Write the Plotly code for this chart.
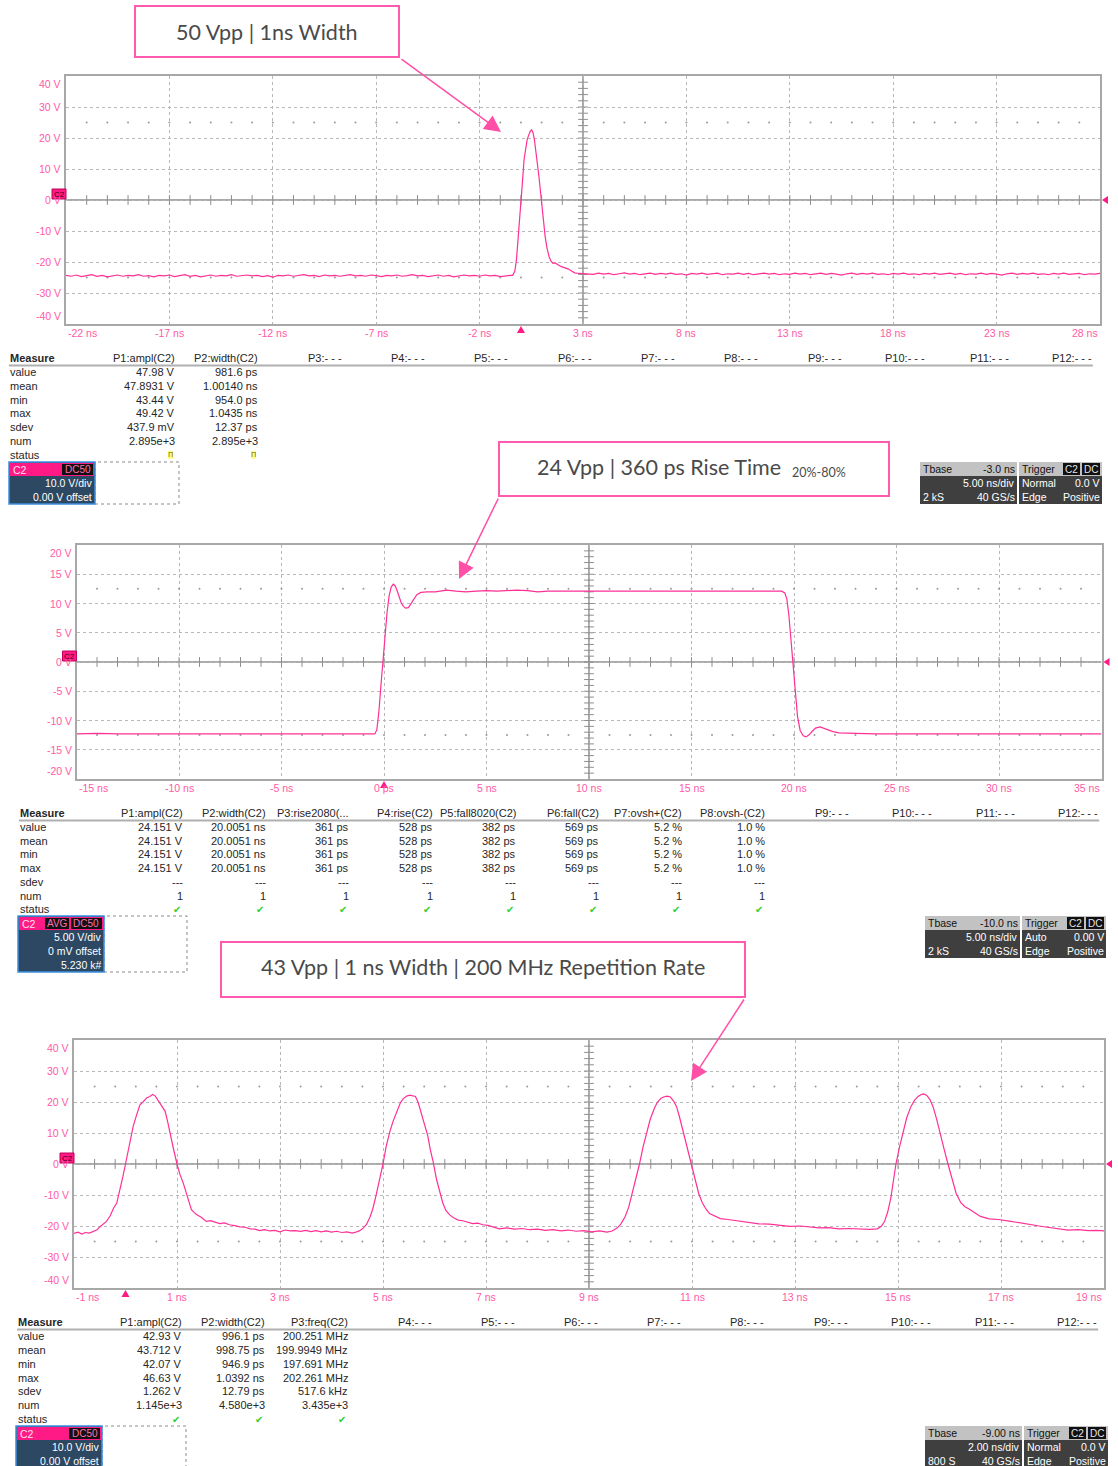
import plotly.graph_objects as go

W, H = 1118, 1466

# ---------------- waveform data : (time ns, volts) ----------------
wave1 = [
    (-22.0, -24.3), (-21.75, -24.6), (-21.5, -24.2), (-21.25, -24.7), (-21.0, -24.4), (-20.75, -24.1),
    (-20.5, -24.6), (-20.25, -24.3), (-20.0, -24.8), (-19.75, -24.4), (-19.5, -24.2), (-19.25, -24.6),
    (-19.0, -24.3), (-18.75, -24.5), (-18.5, -24.1), (-18.25, -24.6), (-18.0, -24.4), (-17.75, -24.8),
    (-17.5, -24.3), (-17.25, -24.5), (-17.0, -24.2), (-16.75, -24.7), (-16.5, -24.4), (-16.25, -24.1),
    (-16.0, -24.6), (-15.75, -24.3), (-15.5, -24.8), (-15.25, -24.4), (-15.0, -24.2), (-14.75, -24.6),
    (-14.5, -24.3), (-14.25, -24.5), (-14.0, -24.1), (-13.75, -24.6), (-13.5, -24.4), (-13.25, -24.2),
    (-13.0, -24.5), (-12.75, -24.3), (-12.5, -24.7), (-12.25, -24.4), (-12.0, -24.9), (-11.75, -24.3),
    (-11.5, -24.5), (-11.25, -24.2), (-11.0, -24.6), (-10.75, -24.4), (-10.5, -24.1), (-10.25, -24.5),
    (-10.0, -24.3), (-9.75, -24.7), (-9.5, -24.2), (-9.25, -24.5), (-9.0, -24.3), (-8.75, -24.6),
    (-8.5, -24.4), (-8.25, -24.1), (-8.0, -24.5), (-7.75, -24.3), (-7.5, -24.6), (-7.25, -24.2),
    (-7.0, -24.4), (-6.75, -24.7), (-6.5, -24.3), (-6.25, -24.5), (-6.0, -24.2), (-5.75, -24.6),
    (-5.5, -24.4), (-5.25, -24.1), (-5.0, -24.5), (-4.75, -24.3), (-4.5, -24.7), (-4.25, -24.4),
    (-4.0, -24.2), (-3.75, -24.6), (-3.5, -24.3), (-3.25, -24.8), (-3.0, -24.4), (-2.75, -24.2),
    (-2.5, -24.5), (-2.25, -24.3), (-2.0, -24.6), (-1.75, -24.2), (-1.5, -24.5), (-1.25, -24.3),
    (-1.0, -24.7), (-0.75, -24.4), (-0.5, -24.3),
    (-0.4, -24.3), (-0.3, -23.0), (-0.22, -19.5), (-0.15, -14.0),
    (-0.09, -8.5), (0.0, -1.0), (0.08, 6.5), (0.15, 13.0), (0.22, 17.0), (0.3, 19.5), (0.38, 21.0),
    (0.45, 22.2), (0.52, 22.6), (0.58, 21.8), (0.65, 19.5), (0.72, 16.0), (0.8, 12.0), (0.87, 7.5),
    (0.94, 3.0), (1.0, -1.0), (1.08, -6.5), (1.17, -11.8), (1.26, -15.5), (1.36, -18.3), (1.46, -19.8),
    (1.55, -20.4), (1.65, -20.3), (1.8, -20.9), (1.95, -21.5), (2.1, -21.8), (2.27, -22.2),
    (2.45, -22.9), (2.6, -23.5), (2.8, -23.7), (3.0, -23.8),
    (3.25, -23.7), (3.5, -24.0), (3.75, -23.6), (4.0, -23.9), (4.25, -23.7), (4.5, -24.1), (4.75, -23.8),
    (5.0, -23.5), (5.25, -23.9), (5.5, -23.7), (5.75, -24.1), (6.0, -23.8), (6.25, -23.6), (6.5, -24.0),
    (6.75, -23.7), (7.0, -23.9), (7.25, -23.6), (7.5, -24.0), (7.75, -23.8), (8.0, -24.2), (8.25, -23.7),
    (8.5, -23.9), (8.75, -23.6), (9.0, -24.0), (9.25, -23.8), (9.5, -23.6), (9.75, -24.1), (10.0, -23.8),
    (10.25, -23.9), (10.5, -23.6), (10.75, -24.0), (11.0, -23.7), (11.25, -24.1), (11.5, -23.8),
    (11.75, -23.6), (12.0, -23.9), (12.25, -23.7), (12.5, -24.1), (12.75, -23.8), (13.0, -24.0),
    (13.25, -23.6), (13.5, -23.9), (13.75, -23.7), (14.0, -24.1), (14.25, -23.8), (14.5, -23.6),
    (14.75, -24.0), (15.0, -23.7), (15.25, -23.9), (15.5, -24.2), (15.75, -23.8), (16.0, -23.6),
    (16.25, -24.0), (16.5, -23.7), (16.75, -23.9), (17.0, -23.6), (17.25, -24.0), (17.5, -23.8),
    (17.75, -24.1), (18.0, -23.7), (18.25, -23.9), (18.5, -23.6), (18.75, -24.0), (19.0, -23.8),
    (19.25, -24.1), (19.5, -23.7), (19.75, -23.9), (20.0, -23.6), (20.25, -24.0), (20.5, -23.8),
    (20.75, -23.6), (21.0, -24.0), (21.25, -23.7), (21.5, -24.1), (21.75, -23.8), (22.0, -23.9),
    (22.25, -23.6), (22.5, -24.0), (22.75, -23.7), (23.0, -23.9), (23.25, -24.2), (23.5, -23.8),
    (23.75, -23.6), (24.0, -24.0), (24.25, -23.7), (24.5, -23.9), (24.75, -23.6), (25.0, -24.0),
    (25.25, -23.8), (25.5, -24.1), (25.75, -23.7), (26.0, -23.9), (26.25, -23.6), (26.5, -24.0),
    (26.75, -23.8), (27.0, -23.7), (27.25, -24.1), (27.5, -23.8), (27.75, -23.9), (28.0, -23.7),
]

wave2 = [
    (-15.0, -12.3), (-14.0, -12.2), (-13.0, -12.3), (-12.0, -12.3), (-11.0, -12.2), (-10.0, -12.3),
    (-9.0, -12.2), (-8.0, -12.3), (-7.0, -12.3), (-6.0, -12.2), (-5.0, -12.3), (-4.0, -12.3),
    (-3.0, -12.2), (-2.0, -12.3), (-1.0, -12.3), (-0.45, -12.3), (-0.35, -11.6), (-0.25, -8.5),
    (-0.15, -4.0), (-0.05, 0.5), (0.05, 4.5), (0.15, 8.5), (0.25, 11.3), (0.35, 12.8), (0.45, 13.3),
    (0.55, 13.0), (0.65, 12.1), (0.75, 10.9), (0.85, 10.0), (0.95, 9.5), (1.05, 9.2), (1.19, 9.3),
    (1.3, 9.9), (1.45, 10.8), (1.6, 11.5), (1.8, 11.9), (2.1, 12.0), (2.5, 12.0), (3.06, 12.3),
    (3.5, 12.1), (4.0, 12.0), (4.5, 12.1), (5.0, 12.2), (5.5, 12.1), (6.0, 12.2), (6.5, 12.3),
    (7.0, 12.2), (7.5, 12.0), (8.0, 12.1), (9.0, 12.1), (10.0, 12.1), (11.0, 12.0), (12.0, 12.1),
    (13.0, 12.1), (14.0, 12.0), (15.0, 12.0), (16.0, 12.0), (17.0, 12.0), (18.0, 12.0), (19.0, 12.1),
    (19.4, 12.1), (19.55, 11.8), (19.65, 10.8), (19.75, 8.0), (19.85, 4.0), (19.97, -0.5),
    (20.07, -5.5), (20.17, -9.3), (20.3, -11.7), (20.45, -12.6), (20.59, -12.8), (20.75, -12.4),
    (20.9, -11.8), (21.05, -11.3), (21.27, -11.1), (21.45, -11.3), (21.7, -11.7), (21.9, -11.9),
    (22.2, -12.1), (22.6, -12.2), (23.0, -12.2), (24.0, -12.3), (25.0, -12.3), (26.0, -12.2),
    (27.0, -12.3), (28.0, -12.3), (29.0, -12.2), (30.0, -12.3), (31.0, -12.3), (32.0, -12.2),
    (33.0, -12.3), (34.0, -12.3), (35.0, -12.3),
]

wave3 = [
    (-1.0, -22.4), (-0.92, -22.0), (-0.85, -22.6), (-0.78, -22.1), (-0.7, -22.3), (-0.62, -21.7),
    (-0.55, -21.2), (-0.5, -20.3), (-0.43, -19.4), (-0.37, -18.5), (-0.3, -16.8), (-0.23, -14.2),
    (-0.17, -12.6), (-0.1, -8.0), (-0.05, -4.0), (0.0, 0.0), (0.05, 4.5), (0.1, 8.0), (0.15, 12.2),
    (0.21, 15.5), (0.28, 19.1), (0.34, 20.0), (0.41, 21.3), (0.47, 21.8), (0.53, 22.4), (0.58, 21.9),
    (0.64, 20.3), (0.7, 18.6), (0.77, 17.0), (0.82, 13.5), (0.86, 10.0), (0.93, 5.0), (1.0, 0.0),
    (1.06, -3.5), (1.12, -6.1), (1.2, -10.5), (1.28, -14.7), (1.33, -15.6), (1.38, -16.3),
    (1.47, -17.2), (1.57, -18.5), (1.65, -18.3), (1.74, -18.8), (1.83, -19.2), (1.92, -19.0),
    (2.02, -19.6), (2.12, -19.9), (2.22, -20.3), (2.32, -20.4), (2.42, -20.9), (2.52, -21.0),
    (2.6, -21.5), (2.7, -21.2), (2.8, -21.6), (2.9, -21.4), (3.0, -21.9), (3.1, -21.3), (3.2, -21.6),
    (3.3, -21.5), (3.4, -21.7), (3.5, -21.4), (3.6, -21.8), (3.7, -21.5), (3.8, -21.9), (3.9, -21.6),
    (4.0, -22.0), (4.1, -21.7), (4.2, -22.1), (4.3, -21.9), (4.4, -22.3), (4.47, -22.0),
    (4.55, -21.5), (4.62, -20.6), (4.68, -19.5), (4.75, -17.0), (4.8, -14.6), (4.86, -10.5),
    (4.93, -5.5), (5.0, 0.0), (5.06, 5.5), (5.13, 10.3), (5.2, 14.0), (5.29, 17.8), (5.34, 19.8),
    (5.39, 21.0), (5.46, 21.9), (5.52, 22.2), (5.58, 22.1), (5.63, 21.8), (5.68, 20.0), (5.74, 16.8),
    (5.8, 13.5), (5.87, 9.1), (5.92, 4.5), (5.97, 1.0), (6.04, -5.0), (6.1, -9.0), (6.16, -12.5),
    (6.22, -15.0), (6.3, -16.5), (6.38, -17.4), (6.46, -18.1), (6.55, -18.3), (6.64, -18.8),
    (6.74, -19.2), (6.84, -19.1), (6.94, -19.6), (7.04, -19.8), (7.14, -20.2), (7.26, -20.9),
    (7.4, -20.6), (7.55, -21.0), (7.7, -20.8), (7.85, -21.2), (8.0, -21.0), (8.15, -21.4),
    (8.3, -21.2), (8.45, -21.6), (8.6, -21.3), (8.75, -21.7), (8.9, -21.5), (9.05, -21.9),
    (9.2, -21.6), (9.35, -22.0), (9.45, -21.6), (9.55, -20.6), (9.62, -19.3), (9.7, -17.0),
    (9.77, -14.0), (9.84, -9.5), (9.91, -5.0), (9.98, 0.0), (10.05, 5.5), (10.12, 10.0),
    (10.19, 14.5), (10.27, 18.0), (10.33, 20.0), (10.4, 21.2), (10.46, 21.7), (10.52, 21.9),
    (10.58, 21.6), (10.64, 20.4), (10.7, 18.5), (10.76, 15.0), (10.83, 10.5), (10.9, 5.5),
    (10.99, 0.0), (11.06, -5.0), (11.13, -9.5), (11.2, -12.5), (11.27, -14.5), (11.34, -16.0),
    (11.45, -16.9), (11.55, -17.6), (11.7, -17.9), (11.9, -18.4), (12.1, -18.9), (12.3, -19.3),
    (12.5, -19.4), (12.7, -19.7), (12.9, -20.1), (13.1, -20.0), (13.3, -20.4), (13.47, -20.6),
    (13.65, -20.5), (13.85, -20.9), (14.05, -20.8), (14.25, -21.0), (14.45, -21.1), (14.6, -20.9),
    (14.68, -20.0), (14.74, -18.5), (14.8, -15.5), (14.86, -11.0), (14.91, -6.0), (14.96, 0.0),
    (15.03, 5.5), (15.1, 10.5), (15.17, 15.0), (15.25, 18.5), (15.32, 20.5), (15.39, 21.8),
    (15.45, 22.4), (15.5, 22.6), (15.56, 22.1), (15.62, 20.8), (15.68, 18.5), (15.75, 14.5),
    (15.82, 9.5), (15.9, 4.5), (15.97, 0.0), (16.05, -5.0), (16.13, -9.5), (16.22, -12.5),
    (16.3, -13.8), (16.38, -14.5), (16.5, -15.8), (16.6, -16.9), (16.77, -17.7), (16.95, -17.9),
    (17.16, -18.4), (17.35, -19.0), (17.55, -19.5), (17.74, -20.0), (17.9, -20.4), (18.1, -20.9),
    (18.3, -21.3), (18.5, -21.2), (18.7, -21.5), (18.85, -21.4), (19.0, -21.6),
]

# ---------------- axes: tick labels ----------------
p1_xticks = [-22, -17, -12, -7, -2, 3, 8, 13, 18, 23, 28]
p1_xlabels = ["-22 ns", "-17 ns", "-12 ns", "-7 ns", "-2 ns", "3 ns", "8 ns", "13 ns", "18 ns", "23 ns", "28 ns"]
p1_yticks = [40, 30, 20, 10, 0, -10, -20, -30, -40]
p1_ylabels = ["40 V", "30 V", "20 V", "10 V", "0 V", "-10 V", "-20 V", "-30 V", "-40 V"]

p2_xticks = [-15, -10, -5, 0, 5, 10, 15, 20, 25, 30, 35]
p2_xlabels = ["-15 ns", "-10 ns", "-5 ns", "0 ps", "5 ns", "10 ns", "15 ns", "20 ns", "25 ns", "30 ns", "35 ns"]
p2_yticks = [20, 15, 10, 5, 0, -5, -10, -15, -20]
p2_ylabels = ["20 V", "15 V", "10 V", "5 V", "0 V", "-5 V", "-10 V", "-15 V", "-20 V"]

p3_xticks = [-1, 1, 3, 5, 7, 9, 11, 13, 15, 17, 19]
p3_xlabels = ["-1 ns", "1 ns", "3 ns", "5 ns", "7 ns", "9 ns", "11 ns", "13 ns", "15 ns", "17 ns", "19 ns"]
p3_yticks = [40, 30, 20, 10, 0, -10, -20, -30, -40]
p3_ylabels = ["40 V", "30 V", "20 V", "10 V", "0 V", "-10 V", "-20 V", "-30 V", "-40 V"]

# ---------------- measurement tables ----------------
row_names = ["value", "mean", "min", "max", "sdev", "num", "status"]
OK = "OK"
WARN = "WARN"

t1_headers = ["P1:ampl(C2)", "P2:width(C2)", "P3:- - -", "P4:- - -", "P5:- - -", "P6:- - -",
              "P7:- - -", "P8:- - -", "P9:- - -", "P10:- - -", "P11:- - -", "P12:- - -"]
t1_p1 = ["47.98 V", "47.8931 V", "43.44 V", "49.42 V", "437.9 mV", "2.895e+3", WARN]
t1_p2 = ["981.6 ps", "1.00140 ns", "954.0 ps", "1.0435 ns", "12.37 ps", "2.895e+3", WARN]

t2_headers = ["P1:ampl(C2)", "P2:width(C2)", "P3:rise2080(...", "P4:rise(C2)", "P5:fall8020(C2)",
              "P6:fall(C2)", "P7:ovsh+(C2)", "P8:ovsh-(C2)", "P9:- - -", "P10:- - -", "P11:- - -", "P12:- - -"]
t2_p1 = ["24.151 V", "24.151 V", "24.151 V", "24.151 V", "---", "1", OK]
t2_p2 = ["20.0051 ns", "20.0051 ns", "20.0051 ns", "20.0051 ns", "---", "1", OK]
t2_p3 = ["361 ps", "361 ps", "361 ps", "361 ps", "---", "1", OK]
t2_p4 = ["528 ps", "528 ps", "528 ps", "528 ps", "---", "1", OK]
t2_p5 = ["382 ps", "382 ps", "382 ps", "382 ps", "---", "1", OK]
t2_p6 = ["569 ps", "569 ps", "569 ps", "569 ps", "---", "1", OK]
t2_p7 = ["5.2 %", "5.2 %", "5.2 %", "5.2 %", "---", "1", OK]
t2_p8 = ["1.0 %", "1.0 %", "1.0 %", "1.0 %", "---", "1", OK]

t3_headers = ["P1:ampl(C2)", "P2:width(C2)", "P3:freq(C2)", "P4:- - -", "P5:- - -", "P6:- - -",
              "P7:- - -", "P8:- - -", "P9:- - -", "P10:- - -", "P11:- - -", "P12:- - -"]
t3_p1 = ["42.93 V", "43.712 V", "42.07 V", "46.63 V", "1.262 V", "1.145e+3", OK]
t3_p2 = ["996.1 ps", "998.75 ps", "946.9 ps", "1.0392 ns", "12.79 ps", "4.580e+3", OK]
t3_p3 = ["200.251 MHz", "199.9949 MHz", "197.691 MHz", "202.261 MHz", "517.6 kHz", "3.435e+3", OK]

# ---------------- info boxes ----------------
tbase1 = ["-3.0 ns", "5.00 ns/div", "2 kS", "40 GS/s"]
trig1 = ["Normal", "0.0 V", "Edge", "Positive"]
tbase2 = ["-10.0 ns", "5.00 ns/div", "2 kS", "40 GS/s"]
trig2 = ["Auto", "0.00 V", "Edge", "Positive"]
tbase3 = ["-9.00 ns", "2.00 ns/div", "800 S", "40 GS/s"]
trig3 = ["Normal", "0.0 V", "Edge", "Positive"]

chan1 = ["10.0 V/div", "0.00 V offset"]
chan2 = ["5.00 V/div", "0 mV offset", "5.230 k#"]
chan3 = ["10.0 V/div", "0.00 V offset"]

titles = ["50 Vpp | 1ns Width", "24 Vpp | 360 ps Rise Time", "43 Vpp | 1 ns Width | 200 MHz Repetition Rate"]
title2_sub = "20%-80%"

# ================= styling / layout =================
PINK = "#ff3095"
LABEL_PINK = "#ff5aa5"
BOX_PINK = "#ff5aae"
GRID = "#b8b8b8"
FRAME = "#a8a8a8"
CENTER = "#8e8e8e"
TXT = "#262626"
FONT = "Liberation Sans"
TS = 11


def X(p):
    return p / W


def Y(p):
    return 1 - p / H


fig = go.Figure()
shapes = []
ann = []

plots = [
    dict(ax="", data=wave1, l=66, r=1100, t=76, b=324, t0=-22, tdiv=5, vdiv=10, tc=3,
         xt=p1_xticks, xl=p1_xlabels, yt=p1_yticks, yl=p1_ylabels, trig=0),
    dict(ax="2", data=wave2, l=76.5, r=1101.5, t=545, b=779, t0=-15, tdiv=5, vdiv=5, tc=10,
         xt=p2_xticks, xl=p2_xlabels, yt=p2_yticks, yl=p2_ylabels, trig=0),
    dict(ax="3", data=wave3, l=74, r=1104, t=1040, b=1288, t0=-1, tdiv=2, vdiv=10, tc=9,
         xt=p3_xticks, xl=p3_xlabels, yt=p3_yticks, yl=p3_ylabels, trig=0),
]

for p in plots:
    xa, ya = "x" + p["ax"], "y" + p["ax"]
    t0, td, vd = p["t0"], p["tdiv"], p["vdiv"]
    t1 = t0 + 10 * td
    axis_common = dict(showline=True, mirror=True, linecolor=FRAME, linewidth=2, showgrid=True,
                       gridcolor=GRID, griddash="dot", gridwidth=1, zeroline=False,
                       showticklabels=False, ticks="", fixedrange=True)
    fig.update_layout(**{
        "xaxis" + p["ax"]: dict(domain=[X(p["l"]), X(p["r"])], range=[t0, t1], tick0=t0, dtick=td,
                                anchor=ya, **axis_common),
        "yaxis" + p["ax"]: dict(domain=[Y(p["b"]), Y(p["t"])], range=[-4 * vd, 4 * vd], tick0=0,
                                dtick=vd, anchor=xa, **axis_common),
    })
    shapes.append(dict(type="line", xref=xa, yref=ya, x0=t0, x1=t1, y0=0, y1=0,
                       line=dict(color=CENTER, width=1.5), layer="below"))
    shapes.append(dict(type="line", xref=xa, yref=ya, x0=p["tc"], x1=p["tc"], y0=-4 * vd, y1=4 * vd,
                       line=dict(color=CENTER, width=1.5), layer="below"))
    hx = [t0 + k * td / 5 for k in range(1, 50)]
    fig.add_trace(go.Scatter(x=hx, y=[0] * len(hx), xaxis=xa, yaxis=ya, mode="markers",
                             marker=dict(symbol="line-ns", size=7, line=dict(color=CENTER, width=1)),
                             hoverinfo="skip"))
    vy = [-4 * vd + k * vd / 5 for k in range(1, 40)]
    fig.add_trace(go.Scatter(x=[p["tc"]] * len(vy), y=vy, xaxis=xa, yaxis=ya, mode="markers",
                             marker=dict(symbol="line-ew", size=7, line=dict(color=CENTER, width=1)),
                             hoverinfo="skip"))
    dx = [t0 + k * td / 5 for k in range(1, 50)]
    for sgn in (1, -1):
        fig.add_trace(go.Scatter(x=dx, y=[sgn * 2.5 * vd] * len(dx), xaxis=xa, yaxis=ya, mode="markers",
                                 marker=dict(symbol="circle", size=2, color="#9a9a9a"), hoverinfo="skip"))
    fig.add_trace(go.Scatter(x=[q[0] for q in p["data"]], y=[q[1] for q in p["data"]], xaxis=xa, yaxis=ya,
                             mode="lines", line=dict(color=PINK, width=1.2), hoverinfo="skip"))
    n = len(p["xt"])
    for i, (tv, lab) in enumerate(zip(p["xt"], p["xl"])):
        anc = "left" if i == 0 else ("right" if i == n - 1 else "center")
        ann.append(dict(x=tv, xref=xa, y=Y(p["b"] + 9), yref="paper", text=lab, showarrow=False,
                        xanchor=anc, yanchor="middle", font=dict(family=FONT, size=10.5, color=LABEL_PINK)))
    m = len(p["yt"])
    for i, (vv, lab) in enumerate(zip(p["yt"], p["yl"])):
        anc = "top" if i == 0 else ("bottom" if i == m - 1 else "middle")
        ann.append(dict(x=X(p["l"] - 3), xref="paper", y=vv, yref=ya, text=lab, showarrow=False,
                        xanchor="right", yanchor=anc, font=dict(family=FONT, size=10.5, color=LABEL_PINK)))
    zy = (p["t"] + p["b"]) / 2
    shapes.append(dict(type="rect", xref="paper", yref="paper", x0=X(p["l"] - 14), x1=X(p["l"]),
                       y0=Y(zy - 1), y1=Y(zy - 11), fillcolor="#ff1a85", line=dict(color="#c0005a", width=1)))
    ann.append(dict(x=X(p["l"] - 7), y=Y(zy - 6), xref="paper", yref="paper", text="C2", showarrow=False,
                    xanchor="center", yanchor="middle", font=dict(family=FONT, size=8, color="#3a0018")))
    rx = p["r"]
    shapes.append(dict(type="path", xref="paper", yref="paper",
                       path=f"M {X(rx + 8)} {Y(zy - 4)} L {X(rx + 2)} {Y(zy)} L {X(rx + 8)} {Y(zy + 4)} Z",
                       fillcolor="#ff1a85", line=dict(color="#ff1a85", width=0)))
    tx = p["l"] + (p["trig"] - t0) / (t1 - t0) * (p["r"] - p["l"])
    shapes.append(dict(type="path", xref="paper", yref="paper",
                       path=f"M {X(tx - 4)} {Y(p['b'] + 9)} L {X(tx)} {Y(p['b'] + 2)} L {X(tx + 4)} {Y(p['b'] + 9)} Z",
                       fillcolor="#ff1a85", line=dict(color="#ff1a85", width=0)))


def txt(x, y, s, anchor="left", color="white", size=10.5, family=FONT, **kw):
    d = dict(x=X(x), y=Y(y), xref="paper", yref="paper", text=s, showarrow=False, xanchor=anchor,
             yanchor="middle", font=dict(family=family, size=size, color=color), borderpad=0, borderwidth=0)
    d.update(kw)
    ann.append(d)


def rect(x0, y0, x1, y1, fill, line_color=None, lw=0, dash=None):
    ln = dict(width=lw)
    if line_color:
        ln["color"] = line_color
    if dash:
        ln["dash"] = dash
    shapes.append(dict(type="rect", xref="paper", yref="paper", x0=X(x0), x1=X(x1), y0=Y(y1), y1=Y(y0),
                       fillcolor=fill, line=ln))


# ---------------- tables ----------------
def add_table(label_x, right0, step, y_head, row_step, headers, cols, line_x0):
    txt(label_x, y_head, "<b>Measure</b>", "left", TXT, TS)
    for i, h in enumerate(headers):
        txt(right0 + i * step, y_head, h, "right", TXT, TS)
    shapes.append(dict(type="line", xref="paper", yref="paper", x0=X(line_x0), x1=X(right0 + 11 * step + 1),
                       y0=Y(y_head + 7.5), y1=Y(y_head + 7.5), line=dict(color="#b0b0b0", width=2)))
    for r, name in enumerate(row_names):
        txt(label_x, y_head + 14 + r * row_step, name, "left", TXT, TS)
    for c, col in enumerate(cols):
        for r, val in enumerate(col):
            yy = y_head + 14 + r * row_step
            xx = right0 + c * step
            if val == OK:
                txt(xx - 2, yy, "✔", "right", "#2fcf2f", 10, "DejaVu Sans")
            elif val == WARN:
                txt(xx - 2, yy, "Π", "right", "#6b6b00", 7, "DejaVu Sans", bgcolor="#ffff88")
            else:
                txt(xx, yy, val, "right", TXT, TS)


add_table(10, 175, 83.35, 358, 13.8, t1_headers, [t1_p1, t1_p2], 9)
add_table(20, 183, 83.2, 813, 13.75, t2_headers, [t2_p1, t2_p2, t2_p3, t2_p4, t2_p5, t2_p6, t2_p7, t2_p8], 19)
add_table(18, 182, 83.2, 1322, 13.85, t3_headers, [t3_p1, t3_p2, t3_p3], 17)


# ---------------- Tbase / Trigger boxes ----------------
def info_box(x0, x1, x2, x3, y0, tb, tr):
    rect(x0, y0, x1, y0 + 14, "#c2c2c2")
    rect(x0, y0 + 14, x1, y0 + 42, "#3f3f3f")
    rect(x2, y0, x3, y0 + 14, "#c2c2c2")
    rect(x2, y0 + 14, x3, y0 + 42, "#3f3f3f")
    txt(x0 + 3, y0 + 7, "Tbase", color="#111")
    txt(x1 - 2, y0 + 7, tb[0], "right", "#111")
    txt(x1 - 2, y0 + 21, tb[1], "right")
    txt(x0 + 3, y0 + 35, tb[2])
    txt(x1 - 2, y0 + 35, tb[3], "right")
    txt(x2 + 3, y0 + 7, "Trigger", color="#111")
    rect(x3 - 39, y0 + 1, x3 - 22, y0 + 13, "#111")
    rect(x3 - 20, y0 + 1, x3 - 2, y0 + 13, "#111")
    txt(x3 - 30.5, y0 + 7, "C2", "center", "#e6e6e6", 10)
    txt(x3 - 11, y0 + 7, "DC", "center", "#e6e6e6", 10)
    txt(x2 + 3, y0 + 21, tr[0])
    txt(x3 - 2, y0 + 21, tr[1], "right")
    txt(x2 + 3, y0 + 35, tr[2])
    txt(x3 - 2, y0 + 35, tr[3], "right")


info_box(920, 1017, 1019, 1102, 462, tbase1, trig1)
info_box(925, 1020, 1022, 1106, 916, tbase2, trig2)
info_box(925, 1022, 1024, 1108, 1426, tbase3, trig3)


# ---------------- channel badges ----------------
def chan_badge(x0, x1, y0, rows, badges, dash_x1):
    y1 = y0 + 14 + 14 * len(rows)
    rect(x1, y0, dash_x1, y1, "rgba(0,0,0,0)", "#8a8a8a", 1, "dot")
    rect(x0, y0, x1, y1, "#2c4862", "#3d8fe0", 1.5)
    rect(x0 + 1, y0 + 1, x1 - 1, y0 + 14, "#ff1a85")
    txt(x0 + 4, y0 + 7.5, "C2", color="#ffe0ee")
    bx = x1 - 2
    for b in reversed(badges):
        wdt = 7 * len(b) + 3
        rect(bx - wdt, y0 + 2, bx, y0 + 13, "#111")
        txt(bx - wdt / 2, y0 + 7.5, b, "center", "#ff6fb0", 10)
        bx -= wdt + 2
    for i, r in enumerate(rows):
        txt(x1 - 3, y0 + 21 + 14 * i, r, "right")


chan_badge(9, 95, 462, chan1, ["DC50"], 179)
chan_badge(18, 104, 916, chan2, ["AVG", "DC50"], 187)
chan_badge(16, 102, 1426, chan3, ["DC50"], 186)

# ---------------- title call-outs ----------------
TCOL = "#4a4a4a"
rect(135, 6, 399, 57, "white", BOX_PINK, 2)
txt(267, 32, titles[0], "center", TCOL, 21.5, "Lato")
rect(499, 442, 889, 496, "white", BOX_PINK, 2)
txt(537, 467, titles[1], "left", TCOL, 21.5, "Lato")
txt(792, 472, title2_sub, "left", TCOL, 12.5, "Lato")
rect(221, 942, 745, 997, "white", BOX_PINK, 2)
txt(483, 967, titles[2], "center", TCOL, 21.5, "Lato")

for (hx, hy, tx_, ty_) in [(501, 132, 400, 58), (459, 579, 499, 497), (691, 1081, 745, 998)]:
    ann.append(dict(x=X(hx), y=Y(hy), xref="paper", yref="paper", ax=tx_ - hx, ay=ty_ - hy,
                    axref="pixel", ayref="pixel", text="", showarrow=True, arrowhead=2, arrowsize=2.2,
                    arrowwidth=1.5, arrowcolor="#ff4fa6", standoff=0))

fig.update_layout(width=W, height=H, margin=dict(l=0, r=0, t=0, b=0), paper_bgcolor="white",
                  plot_bgcolor="white", showlegend=False, shapes=shapes, annotations=ann,
                  font=dict(family=FONT, size=10.5, color=TXT))
fig.write_html("out.html", config={"displayModeBar": False},
               post_script="document.body.style.margin='0px';document.body.style.overflow='hidden';")
